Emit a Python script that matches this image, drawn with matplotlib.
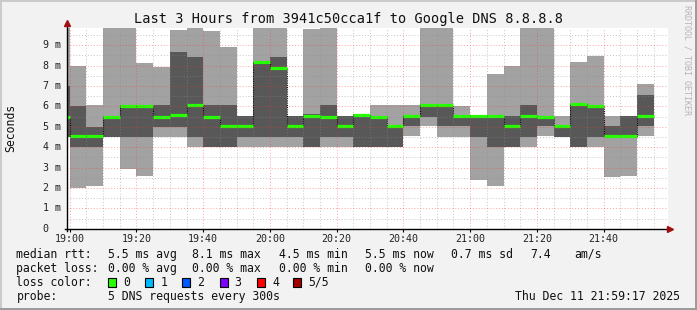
import matplotlib
matplotlib.use("Agg")
import matplotlib.pyplot as plt
from matplotlib.patches import Rectangle
from matplotlib.lines import Line2D
from matplotlib.transforms import blended_transform_factory

# column start in minutes after 19:00, 5 minute steps (first one is the partial column before 19:00)
starts = [-5] + [5 * i for i in range(35)]

# sorted ping times per column in ms: min, 2nd, median, 4th, max (max above ~9.8 is clipped)
rtt_min = [4.5, 2.0, 2.1, 4.5, 2.95, 2.6, 4.5, 4.5, 4.0, 4.0, 4.0, 4.0, 4.0, 4.0, 4.0, 4.0, 4.0, 4.0,
           4.0, 4.0, 4.0, 4.54, 5.03, 4.5, 4.5, 2.4, 2.1, 4.0, 4.0, 4.55, 4.5, 4.0, 4.0, 2.55, 2.6, 4.55]
rtt_p2 = [4.5, 4.0, 4.0, 4.5, 4.5, 4.5, 5.0, 5.0, 4.5, 4.0, 4.0, 4.5, 4.5, 4.5, 4.5, 4.0, 4.5, 4.5,
          4.0, 4.0, 4.0, 5.03, 5.5, 5.03, 5.03, 4.5, 4.0, 4.0, 4.5, 5.03, 4.5, 4.0, 4.5, 4.54, 4.54, 5.03]
rtt_med = [5.5, 4.53, 4.53, 5.5, 6.03, 6.03, 5.5, 5.57, 6.05, 5.5, 5.03, 5.05, 8.15, 7.9, 5.03, 5.55,
           5.5, 5.03, 5.57, 5.5, 5.03, 5.55, 6.05, 6.05, 5.53, 5.55, 5.53, 5.03, 5.55, 5.5, 5.03, 6.1,
           6.0, 4.54, 4.54, 5.55]
rtt_p4 = [7.0, 6.0, 5.0, 5.55, 6.08, 6.08, 6.05, 8.65, 8.4, 6.05, 6.05, 5.52, 8.17, 8.4, 5.54, 5.6,
          6.05, 5.54, 5.6, 5.55, 5.05, 5.55, 6.07, 6.07, 5.55, 5.57, 5.55, 5.54, 6.05, 5.52, 5.05, 6.12,
          6.02, 5.03, 5.54, 6.55]
rtt_max = [10.5, 8.0, 6.05, 10.5, 10.5, 8.1, 7.95, 9.75, 10.5, 9.7, 8.9, 5.52, 10.5, 10.5, 5.54, 9.78,
           10.5, 5.54, 5.6, 6.05, 6.05, 6.05, 10.5, 10.5, 6.0, 5.57, 7.58, 8.0, 10.5, 10.5, 5.53, 8.15,
           8.45, 5.54, 5.54, 7.1]

x_ticks = [0, 20, 40, 60, 80, 100, 120, 140, 160]
x_labels = ["19:00", "19:20", "19:40", "20:00", "20:20", "20:40", "21:00", "21:20", "21:40"]
y_ticks = [0, 1, 2, 3, 4, 5, 6, 7, 8, 9]
y_labels = ["0", "1 m", "2 m", "3 m", "4 m", "5 m", "6 m", "7 m", "8 m", "9 m"]

loss_labels = ["0", "1", "2", "3", "4", "5/5"]
loss_colors = ["#26ff00", "#00b8ff", "#0059ff", "#7e00ff", "#ff0000", "#a10000"]

W, H = 697, 310
MONO = "DejaVu Sans Mono"


def fx(x):
    return x / W


def fy(y):
    return 1 - y / H


fig = plt.figure(figsize=(W / 100, H / 100), dpi=100, facecolor="#f2f2f2")

# frame
fig.add_artist(Rectangle((0, fy(2)), 1, 2 / H, transform=fig.transFigure, color="#cbcbcb", lw=0))
fig.add_artist(Rectangle((0, 0), 2 / W, 1, transform=fig.transFigure, color="#cbcbcb", lw=0))
fig.add_artist(Rectangle((0, 0), 1, 2 / H, transform=fig.transFigure, color="#9c9c9c", lw=0))
fig.add_artist(Rectangle((1 - 2 / W, 0), 2 / W, 1, transform=fig.transFigure, color="#9c9c9c", lw=0))

left, right, top, bottom = 67.3, 668, 28, 228.7
ax = fig.add_axes([fx(left), fy(bottom), fx(right - left), (bottom - top) / H])
ax.set_facecolor("white")
ax.set_xlim(-0.72, 179.28)
ax.set_ylim(0, 9.84)

light = "#a2a2a2"
dark = "#585858"
green = "#26ff00"

ax.bar(starts, [b - a for a, b in zip(rtt_min, rtt_max)], bottom=rtt_min, width=5,
       align="edge", color=light, lw=0, zorder=1)
ax.bar(starts, [b - a for a, b in zip(rtt_p2, rtt_p4)], bottom=rtt_p2, width=5,
       align="edge", color=dark, lw=0, zorder=2)

# median: black dotted steps, green segments on top
ax.plot(starts + [starts[-1] + 5], rtt_med + [rtt_med[-1]], drawstyle="steps-post",
        color="black", lw=0.8, ls=(0, (1, 1)), zorder=3)
ax.hlines(rtt_med, starts, [s + 5 for s in starts], color=green, lw=2.3, zorder=4)

# grid, drawn over the data like rrdtool does
for m in range(0, 180, 5):
    major = m % 20 == 0
    ax.axvline(m, color=(1, 0.2, 0.2, 0.45) if major else (0.55, 0.55, 0.55, 0.5),
               lw=0.7, ls=(0, (1, 2)), zorder=5)
for v in [i * 0.5 for i in range(1, 20)]:
    major = v == int(v)
    ax.axhline(v, color=(1, 0.2, 0.2, 0.45) if major else (0.55, 0.55, 0.55, 0.5),
               lw=0.7, ls=(0, (1, 2)), zorder=5)

for s in ax.spines.values():
    s.set_visible(False)

ax.set_xticks(x_ticks, labels=x_labels, fontfamily=MONO, fontsize=7.2, color="#222222")
ax.tick_params(axis="x", length=2, width=0.8, pad=2, direction="out", color="black")
ax.set_yticks(y_ticks, labels=[""] * len(y_ticks))
ax.tick_params(axis="y", length=0)

tr = blended_transform_factory(ax.transAxes, ax.transData)
for v, lab in zip(y_ticks, y_labels):
    ax.text((42.7 - left) / (right - left), v, lab, transform=tr, ha="left", va="center",
            fontfamily=MONO, fontsize=7.2, color="#222222")

# axes with arrows
arrow = "#a01010"
fig.add_artist(Line2D([fx(left), fx(left)], [fy(bottom + 2), fy(23)], color="black", lw=1,
                      transform=fig.transFigure))
fig.add_artist(Line2D([fx(left - 2), fx(670)], [fy(bottom), fy(bottom)], color="black", lw=1,
                      transform=fig.transFigure))
fig.add_artist(Line2D([fx(left)], [fy(23)], marker="^", markersize=5, color=arrow, lw=0,
                      transform=fig.transFigure))
fig.add_artist(Line2D([fx(670)], [fy(bottom)], marker=">", markersize=5, color=arrow, lw=0,
                      transform=fig.transFigure))

# texts
fig.text(0.5, fy(19), "Last 3 Hours from 3941c50cca1f to Google DNS 8.8.8.8", ha="center",
         va="center", fontfamily=MONO, fontsize=9.8, color="#111111")
fig.text(fx(11), fy(127.5), "Seconds", rotation=90, ha="center", va="center",
         fontfamily=MONO, fontsize=8.3, color="#111111")
fig.text(fx(686.7), fy(60), "RRDTOOL / TOBI OETIKER", rotation=270, ha="center", va="center",
         fontfamily=MONO, fontsize=6, color="#b5b5b5")

leg = dict(fontfamily=MONO, fontsize=8.3, color="#111111", va="center", ha="left")
rows = [254.3, 268.3, 282.3, 296.3]
fig.text(fx(16.4), fy(rows[0]), "median rtt:", **leg)
for x, t in [(107.6, "5.5 ms avg"), (192.4, "8.1 ms max"), (279, "4.5 ms min"),
             (365, "5.5 ms now"), (451, "0.7 ms sd"), (530, "7.4"), (574.7, "am/s")]:
    fig.text(fx(x), fy(rows[0]), t, **leg)
fig.text(fx(16.4), fy(rows[1]), "packet loss:", **leg)
for x, t in [(107.6, "0.00 % avg"), (192.4, "0.00 % max"), (279, "0.00 % min"),
             (365, "0.00 % now")]:
    fig.text(fx(x), fy(rows[1]), t, **leg)
fig.text(fx(16.4), fy(rows[2]), "loss color:", **leg)
box_x = [108, 145, 182, 219.5, 257, 293]
for bx, lab, col in zip(box_x, loss_labels, loss_colors):
    fig.add_artist(Rectangle((fx(bx), fy(rows[2] + 4.3)), 8.4 / W, 8.7 / H,
                             transform=fig.transFigure, facecolor=col, edgecolor="black", lw=0.8))
    fig.text(fx(bx + 15.2), fy(rows[2]), lab, **leg)
fig.text(fx(16.4), fy(rows[3]), "probe:", **leg)
fig.text(fx(107.6), fy(rows[3]), "5 DNS requests every 300s", **leg)
fig.text(fx(680), fy(rows[3]), "Thu Dec 11 21:59:17 2025",
         **{**leg, "ha": "right"})

fig.savefig("out.png", dpi=100, facecolor=fig.get_facecolor())
